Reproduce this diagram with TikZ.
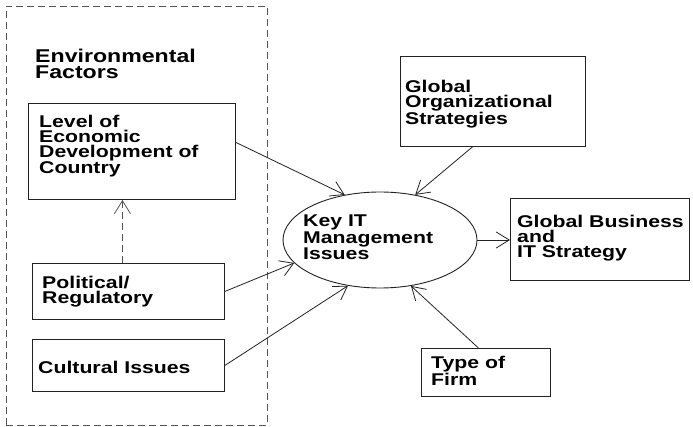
\documentclass[tikz,border=0pt]{standalone}
\usepackage{fontspec}
\newfontfamily\dfont[FakeStretch=1.25]{Liberation Sans}
\usetikzlibrary{arrows.meta,calc,shapes.geometric}
\definecolor{ink}{HTML}{222222}
\definecolor{dashc}{HTML}{555555}
\tikzset{
  box/.style={draw=ink,line width=0.9pt,rectangle,inner sep=0pt,anchor=north west},
  txt/.style={inner sep=0pt,anchor=north west,align=left,font=\dfont\bfseries\fontsize{17}{15}\selectfont,text=black},
  arr/.style={draw=ink,line width=0.8pt,-{Straight Barb[length=13pt,width=16pt,line width=0.8pt]}},
}
\begin{document}
\begin{tikzpicture}[x=1pt,y=-1pt]
\useasboundingbox (0,0) rectangle (693,427);
% environmental frame
\node[box,draw=dashc,dash pattern=on 7pt off 4pt,minimum width=261,minimum height=419] (env) at (6,6) {};
\node[txt,font=\dfont\bfseries\fontsize{18.5}{15.5}\selectfont] (envt) at (35,49) {Environmental\\Factors};
% boxes
\node[box,minimum width=207,minimum height=96] (level) at (28,103) {};
\node[txt] (levelt) at (39,115) {Level of\\Economic\\Development of\\Country};
\node[box,minimum width=192,minimum height=56] (pol) at (32,263) {};
\node[txt] (polt) at (42,276) {Political/\\Regulatory};
\node[box,minimum width=192,minimum height=52] (cul) at (32,339) {};
\node[txt] (cult) at (38,361) {Cultural Issues};
\node[box,minimum width=185,minimum height=90] (go) at (400,56) {};
\node[txt] (got) at (405,80) {Global\\Organizational\\Strategies};
\node[box,minimum width=179,minimum height=82] (gb) at (510,198) {};
\node[txt] (gbt) at (517,215) {Global Business\\and\\IT Strategy};
\node[box,minimum width=129,minimum height=48] (firm) at (421,348) {};
\node[txt] (firmt) at (431,356) {Type of\\Firm};
% ellipse
\node[draw=ink,line width=0.9pt,ellipse,minimum width=194,minimum height=96,inner sep=0pt] (ell) at (380,240) {};
\node[txt] (ellt) at (303,215) {Key IT\\Management\\Issues};
% connectors
\draw[arr] ([yshift=9pt]level.east) -- (ell.128);
\draw[arr] ([xshift=-20.5pt]go.south) -- (ell.52);
\draw[arr] (pol.east) -- (ell.195);
\draw[arr] (cul.east) -- (ell.235);
\draw[arr] ([xshift=-7.5pt]firm.north) -- (ell.304);
\draw[arr] (ell.east) -- (ell.east -| gb.west);
\draw[arr,dash pattern=on 7pt off 4pt,draw=dashc] ([xshift=-6pt]pol.north) -- ([xshift=-6pt]pol.north |- level.south);
\end{tikzpicture}
\end{document}
